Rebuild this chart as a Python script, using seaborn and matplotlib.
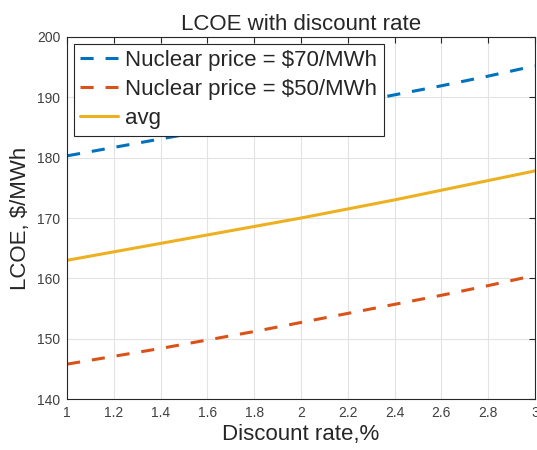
import numpy as np
import pandas as pd
import matplotlib
matplotlib.use("Agg")
import matplotlib.pyplot as plt
import seaborn as sns

# values
discount_rate = [1.0, 1.2, 1.4, 1.6, 1.8, 2.0, 2.2, 2.4, 2.6, 2.8, 3.0]
lcoe_70 = [180.3, 181.7, 183.1, 184.5, 185.9, 187.4, 188.9, 190.4, 191.9, 193.5, 195.2]
lcoe_50 = [145.8, 147.1, 148.4, 149.8, 151.2, 152.7, 154.2, 155.7, 157.2, 158.8, 160.5]
lcoe_avg = [163.0, 164.4, 165.8, 167.2, 168.6, 170.0, 171.5, 173.0, 174.6, 176.2, 177.8]
series_names = ["Nuclear price = $70/MWh", "Nuclear price = $50/MWh", "avg"]

sns.set_style("white")
plt.rcParams['font.family'] = ['Arial', 'Liberation Sans', 'DejaVu Sans']

df = pd.DataFrame({
    "rate": discount_rate * 3,
    "lcoe": lcoe_70 + lcoe_50 + lcoe_avg,
    "series": [series_names[0]] * 11 + [series_names[1]] * 11 + [series_names[2]] * 11,
})

fig = plt.figure(figsize=(5.37, 4.5), dpi=100)
ax = fig.add_axes([0.125, 0.113, 0.871, 0.805])

colors = ["#0072BD", "#D95319", "#EDB120"]
styles = [(0, (4.3, 3.9)), (0, (4.3, 3.9)), "-"]
for name, c, ls in zip(series_names, colors, styles):
    sub = df[df["series"] == name]
    sns.lineplot(data=sub, x="rate", y="lcoe", ax=ax, color=c, linewidth=2.2,
                 linestyle=ls, label=name)

ax.set_xlim(1, 3)
ax.set_ylim(140, 200)
ax.set_xticks(np.arange(1, 3.01, 0.2))
ax.set_xticklabels(["1", "1.2", "1.4", "1.6", "1.8", "2", "2.2", "2.4", "2.6", "2.8", "3"])
ax.set_yticks(np.arange(140, 201, 10))
ax.grid(True, color="#e3e3e3", linewidth=0.8)
ax.tick_params(direction="in", length=4, width=0.8, colors="#262626", labelsize=10,
               top=True, right=True, labelcolor="#404040", pad=5)
for s in ax.spines.values():
    s.set_color("#262626")
    s.set_linewidth(0.8)

ax.set_title("LCOE with discount rate", fontsize=16, color="#262626", pad=5)
ax.set_xlabel("Discount rate,%", fontsize=16, color="#262626", labelpad=3)
ax.set_ylabel("LCOE, $/MWh", fontsize=16, color="#262626", labelpad=4)

leg = ax.legend(loc="upper left", fontsize=16, frameon=True, fancybox=False,
                framealpha=1, borderaxespad=0.3, handlelength=1.7, handletextpad=0.3,
                labelspacing=0.36, borderpad=0.3)
leg.get_frame().set_edgecolor("#262626")
leg.get_frame().set_linewidth(0.8)

fig.savefig("out.png", dpi=100)
